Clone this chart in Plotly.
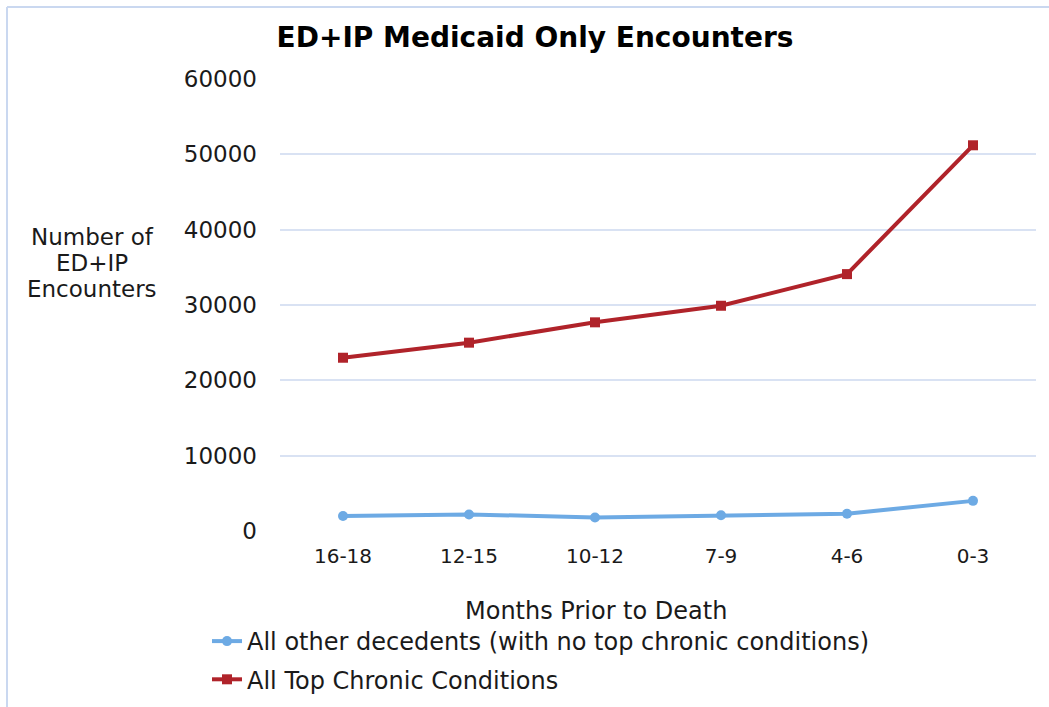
import plotly.graph_objects as go

categories = ["16-18", "12-15", "10-12", "7-9", "4-6", "0-3"]
other_decedents = [2000, 2200, 1800, 2100, 2300, 4000]
top_chronic = [23000, 25000, 27700, 29900, 34100, 51200]
y_ticks = [0, 10000, 20000, 30000, 40000, 50000, 60000]
y_title_lines = ["Number of", "ED+IP", "Encounters"]

W, H = 1049, 707
L, R, T, B = 280, 13, 79, 176
pw = W - L - R
ph = H - T - B

def px(x):
    return (x - L) / pw

def py(y):
    return (H - B - y) / ph

FONT = "DejaVu Sans, Verdana, sans-serif"

fig = go.Figure()
fig.add_trace(go.Scatter(
    x=categories, y=other_decedents, mode="lines+markers",
    name="All other decedents (with no top chronic conditions)",
    legendgroup="a",
    line=dict(color="#6DAAE4", width=4),
    marker=dict(symbol="circle", size=10, color="#6DAAE4"),
))
fig.add_trace(go.Scatter(
    x=categories, y=top_chronic, mode="lines+markers",
    name="All Top Chronic Conditions",
    legendgroup="b",
    line=dict(color="#B0232A", width=4),
    marker=dict(symbol="square", size=10, color="#B0232A"),
))

annotations = [
    dict(text=t, xref="paper", yref="paper",
         x=px(92), y=py(237 + 26 * i), xanchor="center", yanchor="middle",
         showarrow=False, font=dict(size=23, color="#1a1a1a"))
    for i, t in enumerate(y_title_lines)
]
annotations.append(
    dict(text="Months Prior to Death", xref="paper", yref="paper",
         x=px(596), y=py(611), xanchor="center", yanchor="middle",
         showarrow=False, font=dict(size=24, color="#1a1a1a"))
)

fig.update_layout(
    width=W, height=H,
    margin=dict(l=L, r=R, t=T, b=B, autoexpand=False),
    paper_bgcolor="white", plot_bgcolor="white",
    font=dict(family=FONT, color="#1a1a1a", size=22),
    title=dict(text="<b>ED+IP Medicaid Only Encounters</b>",
               font=dict(family=FONT, size=28, color="#000000"),
               x=535 / W, xanchor="center", y=1 - 37 / H, yanchor="middle",
               xref="container", yref="container"),
    showlegend=True,
    legend=dict(x=px(207), y=py(619), xanchor="left", yanchor="top",
                font=dict(size=24, color="#1a1a1a"), orientation="v",
                traceorder="grouped", tracegroupgap=4,
                bgcolor="rgba(0,0,0,0)"),
    xaxis=dict(type="category", range=[-0.5, 5.5], showgrid=False,
               showline=False, zeroline=False, ticks="",
               tickfont=dict(size=20, color="#1a1a1a"), ticklabelstandoff=11),
    yaxis=dict(range=[0, 60000], tickvals=y_ticks, tickformat="d",
               showgrid=True, gridcolor="#D9E2F3", gridwidth=2, zeroline=False,
               showline=False, ticks="",
               tickfont=dict(size=23, color="#1a1a1a"), ticklabelstandoff=22),
    annotations=annotations,
    shapes=[
        dict(type="line", xref="paper", yref="paper", x0=px(7), x1=px(7),
             y0=py(7), y1=py(H), line=dict(color="#CAD8F0", width=2)),
        dict(type="line", xref="paper", yref="paper", x0=px(7), x1=px(W),
             y0=py(7), y1=py(7), line=dict(color="#CAD8F0", width=2)),
    ],
)

fig.write_html("out.html")
